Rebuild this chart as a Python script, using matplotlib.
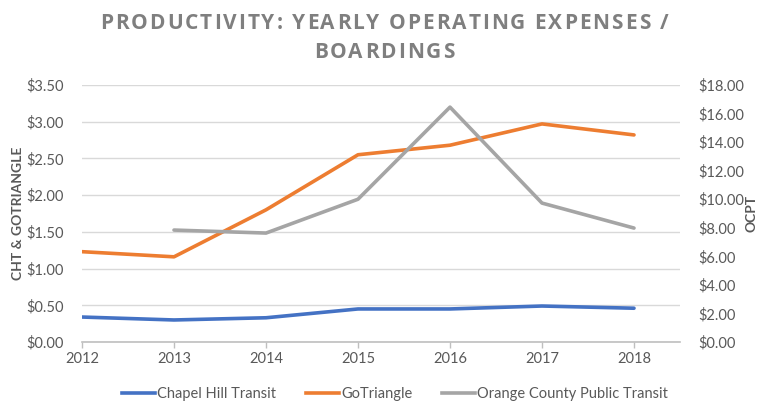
import matplotlib
matplotlib.use("Agg")
import matplotlib.pyplot as plt
from matplotlib.ticker import FuncFormatter, MultipleLocator
from matplotlib.lines import Line2D
from matplotlib.font_manager import FontProperties

years = [2012, 2013, 2014, 2015, 2016, 2017, 2018]
cht = [0.34, 0.30, 0.33, 0.45, 0.45, 0.49, 0.46]
gotriangle = [1.23, 1.16, 1.80, 2.55, 2.68, 2.97, 2.82]
ocpt_years = [2013, 2014, 2015, 2016, 2017, 2018]
ocpt = [7.84, 7.63, 10.0, 16.45, 9.73, 7.98]
title_lines = ['PRODUCTIVITY: YEARLY OPERATING EXPENSES /', 'BOARDINGS']
series_names = ['Chapel Hill Transit', 'GoTriangle', 'Orange County Public Transit']

plt.rcParams['font.family'] = ['Lato', 'DejaVu Sans']

W, H = 768, 404
fig = plt.figure(figsize=(W/100, H/100), dpi=100)
ax = fig.add_axes([82/W, 1-342/H, (680-82)/W, (342-85)/H])
ax2 = ax.twinx()

c_blue = '#4472c4'
c_orange = '#ed7d31'
c_gray = '#a5a5a5'
tc = '#595959'

ax.plot(years, cht, color=c_blue, lw=2.6, solid_capstyle='round', zorder=3)
ax.plot(years, gotriangle, color=c_orange, lw=2.6, solid_capstyle='round', zorder=3)
ax2.plot(ocpt_years, ocpt, color=c_gray, lw=2.6, solid_capstyle='round', zorder=3)

ax.set_xlim(2012, 2018.5)
ax.set_ylim(0, 3.5)
ax2.set_ylim(0, 18)
ax.yaxis.set_major_locator(MultipleLocator(0.5))
ax2.yaxis.set_major_locator(MultipleLocator(2))
ax.yaxis.set_major_formatter(FuncFormatter(lambda v, p: f"${v:.2f}"))
ax2.yaxis.set_major_formatter(FuncFormatter(lambda v, p: f"${v:.2f}"))
ax.set_xticks(years)
ax.set_xticklabels([str(y) for y in years])

ax.grid(axis='y', color='#d9d9d9', lw=1)
ax.set_axisbelow(True)
for a in (ax, ax2):
    for s in ['top', 'right', 'left', 'bottom']:
        a.spines[s].set_visible(False)
ax.spines['bottom'].set_visible(True)
ax.spines['bottom'].set_color('#bfbfbf')
ax.spines['bottom'].set_linewidth(1.2)

ax.tick_params(axis='x', colors='#bfbfbf', labelcolor=tc, labelsize=10.5, length=4, width=1, direction='out', pad=3)
ax.tick_params(axis='y', length=0, labelsize=10.5, labelcolor=tc, pad=13)
ax2.tick_params(axis='y', length=0, labelsize=10.5, labelcolor=tc, pad=13)

ax.set_ylabel('CHT & GOTRIANGLE', fontsize=10, fontweight='bold', color=tc, labelpad=2)
ax2.set_ylabel('OCPT', fontsize=10, fontweight='bold', color=tc, rotation=90, labelpad=1)

# letter-spaced title
fp = FontProperties(family=['Open Sans', 'DejaVu Sans'], weight='bold', size=15)
renderer = fig.canvas.get_renderer()
def char_widths(s):
    return [renderer.get_text_width_height_descent(ch, fp, ismath=False)[0] for ch in s]
w1 = char_widths(title_lines[0])
target = 568.0
tracking = (target - sum(w1)) / (len(w1) - 1)
for line, yc in zip(title_lines, [21, 49.5]):
    ws = char_widths(line)
    total = sum(ws) + tracking * (len(ws) - 1)
    x = 384 - total/2
    for ch, w in zip(line, ws):
        fig.text(x/W, 1-yc/H, ch, ha='left', va='center_baseline', fontproperties=fp, color='#7f7f7f')
        x += w + tracking

handles = [Line2D([], [], color=c, lw=2.6) for c in (c_blue, c_orange, c_gray)]
fig.legend(handles, series_names,
           loc='center', bbox_to_anchor=(395/W, 1-394/H), ncol=3, frameon=False,
           fontsize=10.5, labelcolor=tc, handlelength=2.3, columnspacing=2.0, handletextpad=0.15)

fig.savefig('out.png', dpi=100)
